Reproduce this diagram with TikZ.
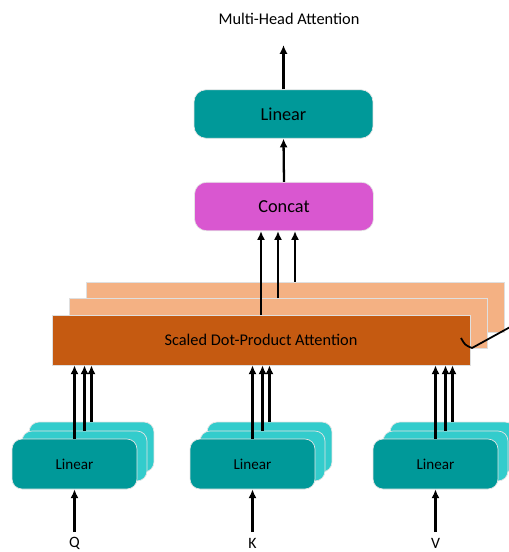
\documentclass[tikz,border=0pt]{standalone}
\usepackage{fontspec}
\setmainfont{Carlito}
\usetikzlibrary{arrows,arrows.meta,positioning,calc}

\definecolor{tealdark}{HTML}{009999}
\definecolor{teallight}{HTML}{33CCCC}
\definecolor{concatpink}{HTML}{D957D0}
\definecolor{attdark}{HTML}{C55A11}
\definecolor{attlight}{HTML}{F4B183}

\begin{document}
\begin{tikzpicture}[x=0.02cm, y=-0.02cm, ->, >={Latex[length=5pt,width=4.6pt]}, line width=1.3pt]
\tikzstyle{lin}=[draw=white!80!gray, thin, rounded corners=0.2cm, fill=tealdark,
  minimum width=2.5cm, minimum height=1cm, font=\fontsize{8.6}{10}\selectfont]
\tikzstyle{att}=[draw=white!75!gray, thin, fill=attlight,
  minimum width=8.36cm, minimum height=1cm, font=\fontsize{9.3}{11}\selectfont]
\tikzstyle{big}=[draw=white!80!gray, thin, rounded corners=0.24cm,
  minimum width=3.58cm, minimum height=0.97cm, font=\fontsize{10.4}{12}\selectfont]
\tikzstyle{lbl}=[font=\fontsize{9}{11}\selectfont, inner sep=1pt]
\useasboundingbox (0,0) rectangle (508,552);

% inputs
\node[lbl] (q) at (74.5,543) {Q};
\node[lbl] (k) at (252.5,543) {K};
\node[lbl] (v) at (435.5,543) {V};
\coordinate (qin) at (74.5,532);
\coordinate (kin) at (252.5,532);
\coordinate (vin) at (435.5,532);

% linear projections (three heads each)
\node[lin, fill=teallight] (q3) at (91.5,447) {};
\node[lin, fill=teallight] (q2) at (84.5,456) {};
\node[lin]                 (q1) at (74.5,464) {Linear};
\node[lin, fill=teallight] (k3) at (269.5,447) {};
\node[lin, fill=teallight] (k2) at (262.5,456) {};
\node[lin]                 (k1) at (252.5,464) {Linear};
\node[lin, fill=teallight] (v3) at (452.5,447) {};
\node[lin, fill=teallight] (v2) at (445.5,456) {};
\node[lin]                 (v1) at (435.5,464) {Linear};

% attention heads
\node[att] (a3) at (295,307) {};
\node[att] (a2) at (278,323.5) {};
\node[att, fill=attdark] (a1) at (261,340) {Scaled Dot-Product Attention};
\draw[-, line width=1pt] (461,338) .. controls (465,345) .. (472,348) -- (512,326);

% output part
\node[big, fill=concatpink] (cat) at (284,206.5) {Concat};
\node[big, fill=tealdark]   (out) at (283.5,114) {Linear};
\node[lbl, font=\fontsize{9.3}{11}\selectfont] (title) at (289,19) {Multi-Head Attention};
\coordinate (top) at (283.5,45);

\path
(qin) edge (q1.south)
(kin) edge (k1.south)
(vin) edge (v1.south)
(q1.north) edge (q1.north |- a1.south)
(q2.north) edge (q2.north |- a1.south)
(q3.north) edge (q3.north |- a1.south)
(k1.north) edge (k1.north |- a1.south)
(k2.north) edge (k2.north |- a1.south)
(k3.north) edge (k3.north |- a1.south)
(v1.north) edge (v1.north |- a1.south)
(v2.north) edge (v2.north |- a1.south)
(v3.north) edge (v3.north |- a1.south)
(a1.north) edge (a1.north |- cat.south)
(a2.north) edge (a2.north |- cat.south)
(a3.north) edge (a3.north |- cat.south)
(cat.north) edge (out.south)
(out.north) edge (top);
\end{tikzpicture}
\end{document}
